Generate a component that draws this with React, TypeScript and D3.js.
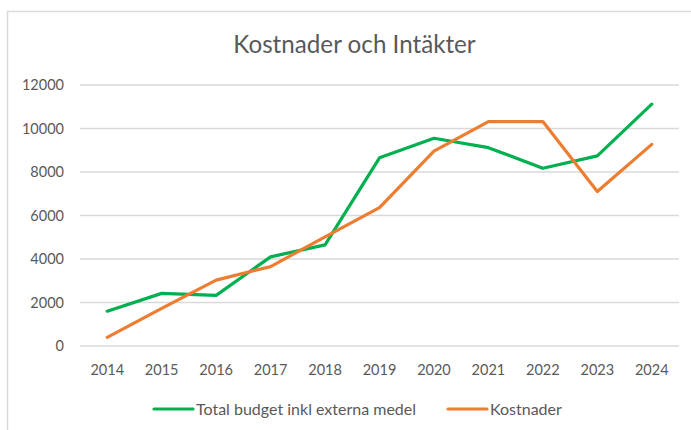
import React from "react";
import * as d3 from "d3";

const years = ["2014","2015","2016","2017","2018","2019","2020","2021","2022","2023","2024"];
const budget = [1600, 2420, 2330, 4100, 4650, 8650, 9550, 9120, 8170, 8740, 11120];
const kostnader = [400, 1730, 3030, 3650, 5020, 6360, 8960, 10320, 10320, 7100, 9270];
const yTicks = [0, 2000, 4000, 6000, 8000, 10000, 12000];
const title = "Kostnader och Intäkter";
const seriesNames = ["Total budget inkl externa medel", "Kostnader"];
const colors = ["#00B050", "#ED7D31"];

const W = 691, H = 430;
const FONT = "Lato, 'Open Sans', sans-serif";

export default function App() {
  const x = d3.scaleBand<string>().domain(years).range([80, 679]).padding(0);
  const y = d3.scaleLinear().domain([0, 12000]).range([346, 85]);
  const cx = (yr: string) => (x(yr) as number) + x.bandwidth() / 2;
  const line = d3.line<number>()
    .x((_, i) => cx(years[i]))
    .y((v) => y(v));
  const series = [budget, kostnader];

  const legend = [
    { x1: 154, x2: 193, tx: 196 },
    { x1: 448, x2: 487, tx: 490 },
  ];

  return (
    <svg width={W} height={H} style={{ position: "absolute", left: 0, top: 0, display: "block", background: "#fff" }}>
      <rect x={7.5} y={11.5} width={720} height={500} fill="#fff" stroke="#d9d9d9" strokeWidth={1.5} />
      <text x={354.5} y={53} textAnchor="middle" fontFamily={FONT} fontSize={24.2} fill="#595959">{title}</text>
      {yTicks.map((t) => (
        <g key={t}>
          <line x1={80} x2={679} y1={y(t)} y2={y(t)} stroke="#d9d9d9" strokeWidth={1.3} />
          <text x={64} y={y(t)} dy="0.35em" textAnchor="end" fontFamily={FONT} fontSize={14.5} fill="#595959">{t}</text>
        </g>
      ))}
      {years.map((yr) => (
        <text key={yr} x={cx(yr)} y={375} textAnchor="middle" fontFamily={FONT} fontSize={14.5} fill="#595959">{yr}</text>
      ))}
      {series.map((s, i) => (
        <path key={i} d={line(s) || ""} fill="none" stroke={colors[i]} strokeWidth={3.2} strokeLinejoin="round" strokeLinecap="round" />
      ))}
      {legend.map((l, i) => (
        <g key={i}>
          <line x1={l.x1} x2={l.x2} y1={409} y2={409} stroke={colors[i]} strokeWidth={3.2} strokeLinecap="round" />
          <text x={l.tx} y={409} dy="0.35em" fontFamily={FONT} fontSize={16} fill="#595959">{seriesNames[i]}</text>
        </g>
      ))}
    </svg>
  );
}
